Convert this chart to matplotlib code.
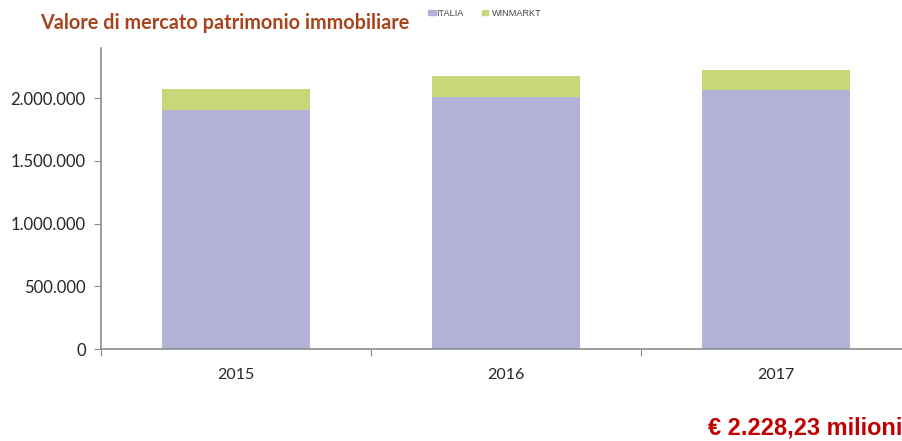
import matplotlib.pyplot as plt
from matplotlib.ticker import FuncFormatter
from matplotlib.patches import Rectangle

# Data (values in thousands of euro)
years = ['2015', '2016', '2017']
italia = [1908000, 2012000, 2065000]
winmarkt = [168000, 168000, 163000]

col_italia = '#B1B2D6'
col_winmarkt = '#C8D779'
axis_col = '#8C8C8C'

fig = plt.figure(figsize=(9.03, 4.41), dpi=100)
# axes run a bit past the right edge, the source image is cropped there
ax = fig.add_axes([101 / 903, 1 - 349 / 441, 810 / 903, 301 / 441])

x = range(len(years))
ax.bar(x, italia, width=0.55, color=col_italia, label='ITALIA')
ax.bar(x, winmarkt, width=0.55, bottom=italia, color=col_winmarkt, label='WINMARKT')

ax.set_xlim(-0.5, 2.5)
ax.set_ylim(0, 2400000)
ax.set_yticks([0, 500000, 1000000, 1500000, 2000000])
ax.yaxis.set_major_formatter(FuncFormatter(lambda v, p: f'{int(v):,}'.replace(',', '.')))
ax.set_xticks([-0.5, 0.5, 1.5, 2.5])
ax.set_xticklabels([])
ax.set_xticks(list(x), minor=True)
ax.set_xticklabels(years, minor=True)
ax.tick_params(axis='x', which='minor', length=0, pad=14)
ax.tick_params(axis='x', which='major', length=5, color=axis_col)
ax.tick_params(axis='y', length=5, color=axis_col, pad=6)

for lab in ax.get_yticklabels():
    lab.set_fontfamily('Lato')
    lab.set_fontsize(12)
    lab.set_color('#262626')
for lab in ax.get_xticklabels(minor=True):
    lab.set_fontfamily('Lato')
    lab.set_fontsize(11.5)
    lab.set_color('#262626')

for s in ['top', 'right']:
    ax.spines[s].set_visible(False)
for s in ['left', 'bottom']:
    ax.spines[s].set_color(axis_col)
    ax.spines[s].set_linewidth(1.2)

fig.text(40 / 903, 1 - 29 / 441, 'Valore di mercato patrimonio immobiliare',
         fontfamily='Lato', fontweight='bold', fontsize=14.3, color='#A8441C')

# small legend next to the title
fig.patches.append(Rectangle((428 / 903, 1 - 15 / 441), 8 / 903, 5 / 441,
                             transform=fig.transFigure, color=col_italia))
fig.text(436 / 903, 1 - 15.5 / 441, 'ITALIA', fontfamily='Liberation Sans', fontsize=6.6, color='#444444')
fig.patches.append(Rectangle((482 / 903, 1 - 15 / 441), 6 / 903, 5 / 441,
                             transform=fig.transFigure, color=col_winmarkt))
fig.text(492 / 903, 1 - 15.5 / 441, 'WINMARKT', fontfamily='Liberation Sans', fontsize=6.6, color='#444444')

fig.text(708 / 903, 1 - 434 / 441, '€ 2.228,23 milioni', fontfamily='Liberation Sans',
         fontweight='bold', fontsize=16.9, color='#C00000')

fig.savefig('out.png', dpi=100)
